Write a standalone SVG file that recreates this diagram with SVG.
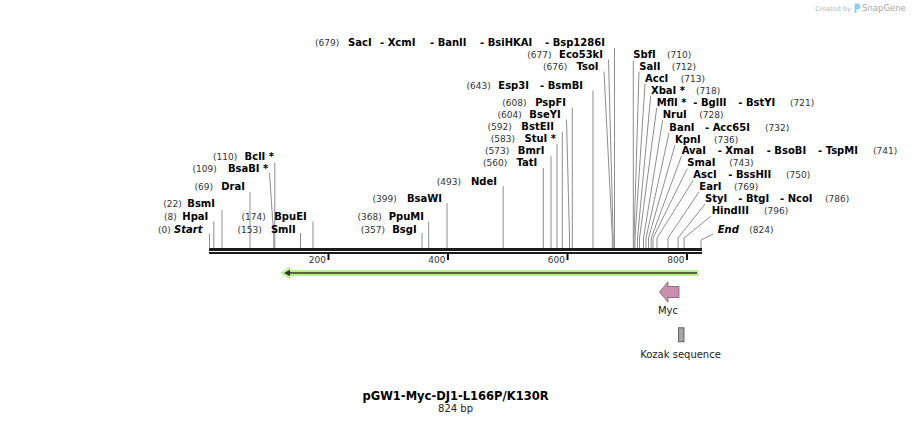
<svg xmlns="http://www.w3.org/2000/svg" width="912" height="424" viewBox="0 0 912 424">
<style>
text{font-family:"DejaVu Sans","Liberation Sans",sans-serif}
.n{font-size:9px;fill:#333}
.b{font-size:10px;font-weight:bold;fill:#000}
.bi{font-size:10px;font-weight:bold;font-style:italic;fill:#000}
.e{text-anchor:end}
.cut{stroke:#8e8e8e;stroke-width:1;fill:none}
.tick{stroke:#111;stroke-width:2}
.ft{font-size:10px;fill:#222;text-anchor:middle}
</style>
<rect width="912" height="424" fill="#fff"/>

<g id="watermark">
<text x="851" y="10.5" font-size="6.5" fill="#b8b8b8" text-anchor="end">Created by</text>
<path d="M854.5 3.5 h3 a3 3 0 0 1 0 6 h-1 v3.5 h-2 z" fill="#8fd0f2"/>
<text x="862" y="11" font-size="8.5" fill="#a8a8a8">SnapGene</text>
</g>

<g id="backbone">
<rect x="209" y="248" width="493" height="3" fill="#1c1c1c"/>
<rect x="209" y="252" width="493" height="2" fill="#1c1c1c"/>
</g>

<g id="ruler">
<line class="tick" x1="328.5" y1="254" x2="328.5" y2="260"/>
<line class="tick" x1="448" y1="254" x2="448" y2="260"/>
<line class="tick" x1="567.5" y1="254" x2="567.5" y2="260"/>
<line class="tick" x1="687" y1="254" x2="687" y2="260"/>
<text class="n e" x="326" y="262.5" fill="#222">200</text>
<text class="n e" x="445.5" y="262.5" fill="#222">400</text>
<text class="n e" x="565" y="262.5" fill="#222">600</text>
<text class="n e" x="684.5" y="262.5" fill="#222">800</text>
</g>

<g id="connectors">
<path class="cut" d="M209.5 234V248"/>
<path class="cut" d="M213.8 221.5V248"/>
<path class="cut" d="M222 210V248"/>
<path class="cut" d="M250 192V248"/>
<path class="cut" d="M269.5 173L273.8 237V248"/>
<path class="cut" d="M274.8 162.5V248"/>
<path class="cut" d="M300.5 233V248"/>
<path class="cut" d="M313 221.5V248"/>
<path class="cut" d="M422 233V248"/>
<path class="cut" d="M428.7 221.7V248"/>
<path class="cut" d="M447 203V248"/>
<path class="cut" d="M503.2 186V248"/>
<path class="cut" d="M543.3 168V248"/>
<path class="cut" d="M551 156V248"/>
<path class="cut" d="M557 144V248"/>
<path class="cut" d="M562.3 131.7V248"/>
<path class="cut" d="M566.5 119.5L569.5 238V248"/>
<path class="cut" d="M572.3 107.5V248"/>
<path class="cut" d="M593 90.5V248"/>
<path class="cut" d="M604 71.5L612.4 238V248"/>
<path class="cut" d="M608.5 59.5L613.2 238V248"/>
<path class="cut" d="M614.5 48V248"/>
<path class="cut" d="M633.3 60.5V248"/>
<path class="cut" d="M639 71.5L634 238V248"/>
<path class="cut" d="M645 84L635 238V248"/>
<path class="cut" d="M650.7 96L637.5 238V248"/>
<path class="cut" d="M656.7 108L639.5 238V248"/>
<path class="cut" d="M662.7 120L643.5 238V248"/>
<path class="cut" d="M669 133L646 238V248"/>
<path class="cut" d="M675 145L648.5 238V248"/>
<path class="cut" d="M681.5 156L651.2 238V248"/>
<path class="cut" d="M687.3 168.5L653 238V248"/>
<path class="cut" d="M693 180.5L657 238V248"/>
<path class="cut" d="M699 192L668 238V248"/>
<path class="cut" d="M705 204L678.1 238V248"/>
<path class="cut" d="M711 216L684.1 238V248"/>
<path class="cut" d="M713 234L701 240V248"/>
</g>

<g id="site-Start"><text class="n e" x="170.7" y="233">(0)</text><text class="bi e" x="202.5" y="233">Start</text></g>
<g id="site-HpaI"><text class="n e" x="176.7" y="220.3">(8)</text><text class="b e" x="208.3" y="220.3">HpaI</text></g>
<g id="site-BsmI"><text class="n e" x="181.7" y="207">(22)</text><text class="b e" x="215" y="207">BsmI</text></g>
<g id="site-DraI"><text class="n e" x="213" y="189.6">(69)</text><text class="b e" x="245" y="189.6">DraI</text></g>
<g id="site-BsaBI"><text class="n e" x="216.7" y="172">(109)</text><text class="b e" x="268.3" y="172">BsaBI *</text></g>
<g id="site-BclI"><text class="n e" x="237.3" y="159.6">(110)</text><text class="b e" x="274" y="159.6">BclI *</text></g>
<g id="site-SmlI"><text class="n e" x="261.7" y="232.6">(153)</text><text class="b e" x="295.7" y="232.6">SmlI</text></g>
<g id="site-BpuEI"><text class="n e" x="265.7" y="220.3">(174)</text><text class="b e" x="306.7" y="220.3">BpuEI</text></g>
<g id="site-BsgI"><text class="n e" x="385" y="232.6">(357)</text><text class="b e" x="416.7" y="232.6">BsgI</text></g>
<g id="site-PpuMI"><text class="n e" x="381.7" y="220.3">(368)</text><text class="b e" x="424" y="220.3">PpuMI</text></g>
<g id="site-BsaWI"><text class="n e" x="396.7" y="202.3">(399)</text><text class="b e" x="442" y="202.3">BsaWI</text></g>
<g id="site-NdeI"><text class="n e" x="461" y="184.6">(493)</text><text class="b e" x="497" y="184.6">NdeI</text></g>
<g id="site-TatI"><text class="n e" x="507.3" y="166">(560)</text><text class="b e" x="537.3" y="166">TatI</text></g>
<g id="site-BmrI"><text class="n e" x="509.3" y="153.6">(573)</text><text class="b e" x="544.5" y="153.6">BmrI</text></g>
<g id="site-StuI"><text class="n e" x="515" y="142">(583)</text><text class="b e" x="556" y="142">StuI *</text></g>
<g id="site-BstEII"><text class="n e" x="511.7" y="129.6">(592)</text><text class="b e" x="554" y="129.6">BstEII</text></g>
<g id="site-BseYI"><text class="n e" x="521.7" y="117.6">(604)</text><text class="b e" x="560.7" y="117.6">BseYI</text></g>
<g id="site-PspFI"><text class="n e" x="526.5" y="106">(608)</text><text class="b e" x="566" y="106">PspFI</text></g>
<g id="site-Esp3I"><text class="n e" x="490.7" y="88.6">(643)</text><text class="b" x="498.3" y="88.6">Esp3I</text><text class="b" x="540" y="88.6">- BsmBI</text></g>
<g id="site-TsoI"><text class="n e" x="567.3" y="69.6">(676)</text><text class="b e" x="598.5" y="69.6">TsoI</text></g>
<g id="site-Eco53kI"><text class="n e" x="551.5" y="58">(677)</text><text class="b e" x="603" y="58">Eco53kI</text></g>
<g id="site-SacI"><text class="n" x="315" y="46.3">(679)</text><text class="b" x="348" y="46.3">SacI</text><text class="b" x="380" y="46.3">- XcmI</text><text class="b" x="430" y="46.3">- BanII</text><text class="b" x="480" y="46.3">- BsiHKAI</text><text class="b" x="545" y="46.3">- Bsp1286I</text></g>

<g id="site-SbfI"><text class="b" x="633.3" y="58.3">SbfI</text><text class="n" x="667" y="58.3">(710)</text></g>
<g id="site-SalI"><text class="b" x="639.3" y="69.8">SalI</text><text class="n" x="671.7" y="69.8">(712)</text></g>
<g id="site-AccI"><text class="b" x="645" y="82">AccI</text><text class="n" x="680.7" y="82">(713)</text></g>
<g id="site-XbaI"><text class="b" x="651" y="94.3">XbaI *</text><text class="n" x="696" y="94.3">(718)</text></g>
<g id="site-MflI"><text class="b" x="656.7" y="106.3">MflI *</text><text class="b" x="693.3" y="106.3">- BglII</text><text class="b" x="738.3" y="106.3">- BstYI</text><text class="n" x="790" y="106.3">(721)</text></g>
<g id="site-NruI"><text class="b" x="662.7" y="117.8">NruI</text><text class="n" x="699.3" y="117.8">(728)</text></g>
<g id="site-BanI"><text class="b" x="669.3" y="130.6">BanI</text><text class="b" x="705" y="130.6">- Acc65I</text><text class="n" x="765" y="130.6">(732)</text></g>
<g id="site-KpnI"><text class="b" x="675" y="142.6">KpnI</text><text class="n" x="714" y="142.6">(736)</text></g>
<g id="site-AvaI"><text class="b" x="681.7" y="153.8">AvaI</text><text class="b" x="717.7" y="153.8">- XmaI</text><text class="b" x="766.7" y="153.8">- BsoBI</text><text class="b" x="818" y="153.8">- TspMI</text><text class="n" x="873" y="153.8">(741)</text></g>
<g id="site-SmaI"><text class="b" x="687.3" y="166.3">SmaI</text><text class="n" x="729.3" y="166.3">(743)</text></g>
<g id="site-AscI"><text class="b" x="693.3" y="178">AscI</text><text class="b" x="728.3" y="178">- BssHII</text><text class="n" x="786" y="178">(750)</text></g>
<g id="site-EarI"><text class="b" x="699.3" y="189.8">EarI</text><text class="n" x="734" y="189.8">(769)</text></g>
<g id="site-StyI"><text class="b" x="705" y="202.3">StyI</text><text class="b" x="738.3" y="202.3">- BtgI</text><text class="b" x="780" y="202.3">- NcoI</text><text class="n" x="825" y="202.3">(786)</text></g>
<g id="site-HindIII"><text class="b" x="711.7" y="214.3">HindIII</text><text class="n" x="764" y="214.3">(796)</text></g>
<g id="site-End"><text class="bi" x="717.7" y="233">End</text><text class="n" x="749.3" y="233">(824)</text></g>

<g id="orf">
<line x1="286" y1="273" x2="698.5" y2="273" stroke="#b6f28c" stroke-width="6"/>
<polygon points="280.5,273 290,266.5 290,279.5" fill="#b6f28c"/>
<line x1="288" y1="273" x2="697" y2="273" stroke="#333" stroke-width="1.6"/>
<polygon points="284,273 290,269.8 290,276.2" fill="#333"/>
</g>

<g id="feature-Myc">
<polygon points="659.5,292 668,282 668,286.5 679,286.5 679,297.5 668,297.5 668,302" fill="#c98fae" stroke="#6a4a5c" stroke-width="0.7"/>
<text class="ft" x="668" y="314">Myc</text>
</g>

<g id="feature-Kozak">
<rect x="678.5" y="327.8" width="5.5" height="14" fill="#a6a6a6" stroke="#4a4a4a" stroke-width="0.8"/>
<text class="ft" x="680.5" y="357.5">Kozak sequence</text>
</g>

<g id="title">
<text x="455.5" y="400" font-size="11.5" font-weight="bold" fill="#000" text-anchor="middle">pGW1-Myc-DJ1-L166P/K130R</text>
<text x="455.5" y="412" font-size="10" fill="#222" text-anchor="middle">824 bp</text>
</g>
</svg>
